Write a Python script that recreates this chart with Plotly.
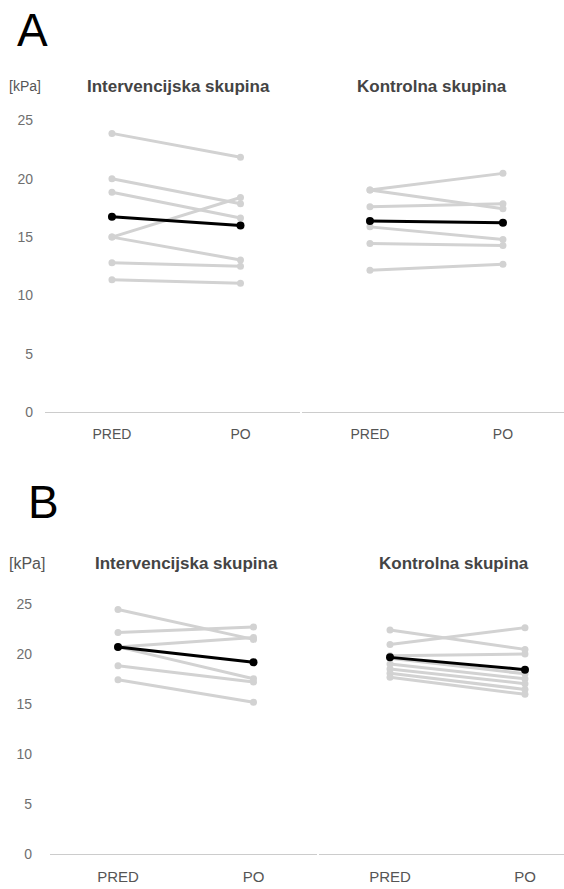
import plotly.graph_objects as go

W, H = 564, 889

times = ["PRED", "PO"]
y_ticks = [0, 5, 10, 15, 20, 25]

# Panel A
A_int_pred = [23.9, 20.0, 18.85, 15.0, 15.0, 12.8, 11.35]
A_int_po = [21.85, 17.86, 16.64, 18.4, 13.04, 12.5, 11.05]
A_int_mean = [16.75, 16.0]

A_kon_pred = [19.05, 19.05, 17.6, 15.88, 14.46, 12.16]
A_kon_po = [20.47, 17.43, 17.86, 14.8, 14.29, 12.67]
A_kon_mean = [16.39, 16.24]

# Panel B
B_int_pred = [24.5, 22.18, 20.75, 20.75, 18.87, 17.45]
B_int_po = [21.5, 22.74, 21.7, 17.55, 17.22, 15.2]
B_int_mean = [20.75, 19.2]

B_kon_pred = [22.45, 21.0, 19.85, 19.6, 19.04, 18.54, 18.1, 17.7]
B_kon_po = [20.5, 22.68, 20.03, 18.05, 17.55, 17.06, 16.49, 16.0]
B_kon_mean = [19.7, 18.47]

group_titles = ["Intervencijska skupina", "Kontrolna skupina"]
unit_label = "[kPa]"
panel_labels = ["A", "B"]

GREY = "#d2d2d2"
FONT = "Arial, Liberation Sans, sans-serif"

fig = go.Figure()


def add_group(pred, po, mean, xa, ya):
    for a, b in zip(pred, po):
        fig.add_trace(go.Scatter(
            x=times, y=[a, b], xaxis=xa, yaxis=ya, mode="lines+markers",
            line=dict(color=GREY, width=3), marker=dict(color=GREY, size=7),
            showlegend=False, hoverinfo="skip", cliponaxis=False))
    fig.add_trace(go.Scatter(
        x=times, y=mean, xaxis=xa, yaxis=ya, mode="lines+markers",
        line=dict(color="#000000", width=3), marker=dict(color="#000000", size=8),
        showlegend=False, cliponaxis=False))


add_group(A_int_pred, A_int_po, A_int_mean, "x", "y")
add_group(A_kon_pred, A_kon_po, A_kon_mean, "x2", "y")
add_group(B_int_pred, B_int_po, B_int_mean, "x3", "y2")
add_group(B_kon_pred, B_kon_po, B_kon_mean, "x4", "y2")


def px(v):
    return v / W


def py(v):
    return 1 - v / H


def xcommon(size):
    return dict(type="category", categoryorder="array", categoryarray=times,
                showgrid=False, zeroline=False, showline=True, linecolor="#cccccc",
                linewidth=1, ticks="", ticklabelstandoff=9,
                tickfont=dict(family=FONT, size=size, color="#555555"),
                fixedrange=True)


fig.update_layout(
    width=W, height=H, margin=dict(l=0, r=0, t=0, b=0),
    paper_bgcolor="white", plot_bgcolor="white",
    xaxis=dict(domain=[px(45), px(300)], range=[-0.521, 1.463], anchor="y", **xcommon(14)),
    xaxis2=dict(domain=[px(302), px(564)], range=[-0.511, 1.459], anchor="y", **xcommon(14)),
    xaxis3=dict(domain=[px(50), px(317)], range=[-0.502, 1.469], anchor="y2", **xcommon(15)),
    xaxis4=dict(domain=[px(319), px(564)], range=[-0.526, 1.289], anchor="y2", **xcommon(15)),
    yaxis=dict(domain=[py(415.7), py(109.9)], range=[0, 26], anchor="x",
               tickvals=y_ticks, showgrid=False, zeroline=False, showline=False,
               ticks="", ticklabelstandoff=11,
               tickfont=dict(family=FONT, size=14, color="#6f6f6f")),
    yaxis2=dict(domain=[py(861.7), py(599.9)], range=[0, 26], anchor="x3",
                tickvals=y_ticks, showgrid=False, zeroline=False, showline=False,
                ticks="", ticklabelstandoff=17,
                tickfont=dict(family=FONT, size=14, color="#6f6f6f")),
    font=dict(family=FONT),
)

ann = []
# panel letters
ann.append(dict(text=panel_labels[0], x=px(15), y=py(30), xanchor="left", yanchor="middle",
                font=dict(size=46, color="#000000", family=FONT)))
ann.append(dict(text=panel_labels[1], x=px(26), y=py(507), xanchor="left", yanchor="middle",
                font=dict(size=46, color="#000000", family=FONT)))
# titles
title_pos = [(178, 87, 0), (432, 87, 1), (186, 569, 0), (454, 569, 1)]
for cx, cy, k in title_pos:
    ann.append(dict(text="<b>" + group_titles[k] + "</b>", x=px(cx), y=py(cy),
                    xanchor="center", yanchor="middle",
                    font=dict(size=17, color="#444444", family=FONT)))
for cx, cy, s in [(25, 87, 14), (27, 569, 16)]:
    ann.append(dict(text=unit_label, x=px(cx), y=py(cy), xanchor="center", yanchor="middle",
                    font=dict(size=s, color="#555555", family=FONT)))
for a in ann:
    a.update(xref="paper", yref="paper", showarrow=False)
fig.update_layout(annotations=ann)

fig.write_html("out.html")
